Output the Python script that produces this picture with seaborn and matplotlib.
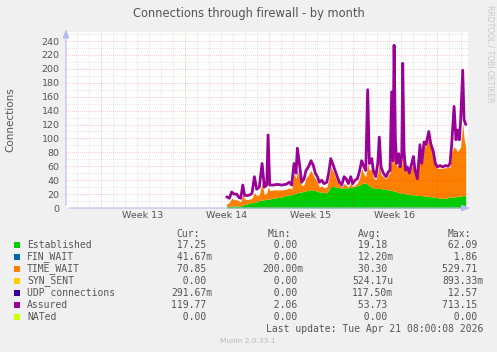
import matplotlib
matplotlib.use("Agg")
import matplotlib.pyplot as plt
from matplotlib.patches import Rectangle
import pandas as pd
import seaborn as sns

# time in days since start of Week 13
days = [10.47, 10.69, 10.89, 11.08, 11.31, 11.50, 11.64, 11.81, 11.97, 12.19,
        12.42, 12.58, 12.78, 12.97, 13.19, 13.42, 13.61, 13.81, 13.92, 14.06,
        14.36, 14.69, 15.06, 15.42, 15.69, 15.89, 16.08, 16.25, 16.36, 16.53,
        16.72, 16.92, 17.08, 17.28, 17.50, 17.69, 17.86, 18.03, 18.19, 18.39,
        18.58, 18.81, 18.97, 19.14, 19.36, 19.58, 19.86, 20.06, 20.25, 20.42,
        20.61, 20.81, 20.97, 21.17, 21.36, 21.53, 21.72, 21.92, 22.06, 22.22,
        22.36, 22.56, 22.69, 22.89, 23.06, 23.19, 23.33, 23.53, 23.75, 23.94,
        24.08, 24.22, 24.33, 24.42, 24.53, 24.64, 24.81, 24.92, 25.06, 25.14,
        25.25, 25.39, 25.53, 25.69, 25.89, 26.03, 26.17, 26.36, 26.58, 26.72,
        26.92, 27.08, 27.31, 27.47, 27.69, 27.86, 28.03, 28.25, 28.47, 28.69,
        28.92, 29.08, 29.22, 29.42, 29.58, 29.69, 29.86, 29.97, 30.14, 30.25,
        30.39]

established = [2, 2, 3, 3, 3, 3, 3, 4, 5, 6,
               7, 8, 8, 9, 11, 11, 12, 13, 13, 13,
               14, 15, 16, 18, 19, 19, 20, 21, 22, 23,
               23, 24, 25, 25, 26, 26, 25, 24, 23, 23,
               22, 22, 26, 31, 31, 30, 29, 28, 29, 29,
               29, 30, 30, 31, 32, 33, 35, 36, 36, 34,
               32, 30, 28, 28, 28, 28, 28, 27, 27, 26,
               26, 25, 25, 24, 24, 23, 22, 22, 21, 21,
               21, 20, 20, 20, 19, 19, 19, 18, 18, 18,
               17, 17, 17, 16, 16, 15, 15, 14, 14, 14,
               15, 16, 16, 16, 16, 17, 17, 17, 18, 18,
               17]

time_wait = [4, 6, 11, 9, 9, 7, 6, 15, 8, 6,
             6, 6, 14, 9, 8, 25, 7, 9, 17, 12,
             12, 11, 10, 9, 10, 8, 30, 21, 32, 22,
             9, 10, 18, 23, 28, 21, 17, 13, 7, 9,
             7, 8, 14, 28, 21, 12, 4, 2, 6, 4,
             1, 6, 1, 2, 4, 9, 22, 12, 9, 30,
             22, 26, 16, 12, 22, 36, 20, 18, 15, 22,
             24, 63, 35, 76, 46, 36, 40, 35, 41, 72,
             53, 32, 34, 28, 40, 41, 31, 22, 68, 44,
             74, 71, 86, 72, 60, 45, 42, 43, 43, 44,
             43, 43, 64, 72, 69, 64, 68, 71, 104, 82,
             71]

assured = [16, 14, 23, 20, 20, 15, 14, 33, 18, 18,
           19, 21, 45, 27, 30, 64, 30, 33, 105, 33,
           33, 34, 33, 34, 37, 33, 64, 50, 86, 64,
           37, 42, 54, 59, 68, 61, 50, 45, 37, 40,
           35, 37, 50, 71, 61, 50, 37, 33, 45, 42,
           35, 45, 35, 40, 42, 52, 68, 59, 54, 170,
           64, 71, 54, 45, 64, 102, 59, 50, 45, 52,
           54, 167, 68, 234, 98, 64, 78, 59, 74, 208,
           81, 54, 59, 50, 64, 74, 54, 42, 91, 64,
           95, 91, 110, 93, 81, 64, 59, 61, 59, 61,
           60, 64, 91, 146, 98, 112, 98, 127, 198, 127,
           120]

week_labels = ["Week 13", "Week 14", "Week 15", "Week 16"]
week_centers = [3.5, 10.5, 17.5, 24.5]
week_starts = [0, 7, 14, 21, 28]

legend_names = ["Established", "FIN_WAIT", "TIME_WAIT", "SYN_SENT",
                "UDP connections", "Assured", "NATed"]
legend_colors = ["#00CC00", "#0066B3", "#FF8000", "#FFCC00",
                 "#330099", "#990099", "#CCFF00"]
cur_vals = ["17.25", "41.67m", "70.85", "0.00", "291.67m", "119.77", "0.00"]
min_vals = ["0.00", "0.00", "200.00m", "0.00", "0.00", "2.06", "0.00"]
avg_vals = ["19.18", "12.20m", "30.30", "524.17u", "117.50m", "53.73", "0.00"]
max_vals = ["62.09", "1.86", "529.71", "893.33m", "12.57", "713.15", "0.00"]

W, H = 497, 352
TXT = "#555555"

sns.set_style("white")
plt.rcParams["font.family"] = ["DejaVu Sans"]

fig = plt.figure(figsize=(W / 100, H / 100), dpi=100, facecolor="#F0F0F0")
ax = fig.add_axes([66 / W, 1 - 208 / H, 402 / W, 176 / H])
ax.set_facecolor("white")

df = pd.DataFrame({"day": days, "established": established,
                   "time_wait": time_wait, "assured": assured})
df["stack_top"] = df["established"] + df["time_wait"]

ax.fill_between(df["day"], 0, df["established"], color="#00CC00", lw=0, zorder=2)
ax.fill_between(df["day"], df["established"], df["stack_top"],
                color="#FF8000", lw=0, zorder=2)
sns.lineplot(data=df, x="day", y="assured", ax=ax, color="#990099",
             lw=2.0, zorder=3)

xmin, xmax = -2.92, 30.58
ymax = 253
ax.set_xlim(xmin, xmax)
ax.set_ylim(0, ymax)

# grid on top of the data, rrdtool style
dots = (0, (0.6, 1.4))
for y in range(10, ymax, 10):
    if y % 20 == 0:
        ax.axhline(y, color="#FF0000", alpha=0.35, lw=0.7, ls=dots, zorder=4)
    else:
        ax.axhline(y, color="#808080", alpha=0.35, lw=0.7, ls=dots, zorder=4)
for d in range(-2, 31):
    if d in week_starts:
        ax.axvline(d, color="#FF0000", alpha=0.35, lw=0.7, ls=dots, zorder=4)
    else:
        ax.axvline(d, color="#808080", alpha=0.35, lw=0.7, ls=dots, zorder=4)

for s in ax.spines.values():
    s.set_visible(False)

ax.set_yticks(range(0, 241, 20))
ax.set_xticks(week_centers)
ax.set_xticklabels(week_labels)
ax.tick_params(axis="y", length=0, pad=4.5, labelsize=6.8, labelcolor=TXT)
ax.tick_params(axis="x", length=0, pad=2.5, labelsize=6.8, labelcolor=TXT)
ax.set_xlabel("")
ax.set_ylabel("Connections", fontsize=7.5, color=TXT, labelpad=8)
ax.yaxis.set_label_coords(-51 / 402, 0.5)

# axis arrows
axis_col = "#B8B8F0"
ax.annotate("", xy=(1.012, 0), xytext=(0, 0), xycoords="axes fraction",
            arrowprops=dict(arrowstyle="-|>,head_length=0.5,head_width=0.2",
                            color=axis_col, lw=0.8), annotation_clip=False)
ax.annotate("", xy=(0, 1.03), xytext=(0, 0), xycoords="axes fraction",
            arrowprops=dict(arrowstyle="-|>,head_length=0.5,head_width=0.2",
                            color=axis_col, lw=0.8), annotation_clip=False)

fig.text(0.5, 1 - 13 / H, "Connections through firewall - by month",
         ha="center", va="center", fontsize=8.3, color=TXT)
fig.text(490 / W, 1 - 5 / H, "RRDTOOL / TOBI OETIKER", rotation=270,
         ha="center", va="top", fontsize=5.5, color="#C8C8C8")

# legend block
mono = "DejaVu Sans Mono"
fs = 7
cw = 5.86
row_y = [245, 257, 269, 281, 293, 305, 317]
col_right = [212, 303, 393, 483]
heads = ["Cur:", "Min:", "Avg:", "Max:"]

def fx(x):
    return x / W

def fy(y):
    return 1 - y / H

for r, head in zip(col_right, heads):
    fig.text(fx(r - 6 * cw), fy(234), head, ha="left", va="center",
             family=mono, fontsize=fs, color=TXT)

for i, name in enumerate(legend_names):
    y = row_y[i]
    fig.patches.append(Rectangle((fx(14), fy(y + 3)), 6 / W, 6 / H,
                                 transform=fig.transFigure,
                                 facecolor=legend_colors[i], edgecolor="none"))
    fig.text(fx(27), fy(y), name, ha="left", va="center",
             family=mono, fontsize=fs, color=TXT)
    for r, col in zip(col_right, [cur_vals, min_vals, avg_vals, max_vals]):
        v = col[i]
        s = v if v[-1].isalpha() else v + " "
        fig.text(fx(r - 7 * cw), fy(y), s.rjust(7), ha="left", va="center",
                 family=mono, fontsize=fs, color=TXT)

fig.text(fx(483), fy(329), "Last update: Tue Apr 21 08:00:08 2026",
         ha="right", va="center", family=mono, fontsize=fs, color=TXT)
fig.text(fx(248), fy(341), "Munin 2.0.33-1", ha="center", va="center",
         fontsize=5.3, color="#B8B8B8")

fig.savefig("out.png", dpi=100, facecolor=fig.get_facecolor())
